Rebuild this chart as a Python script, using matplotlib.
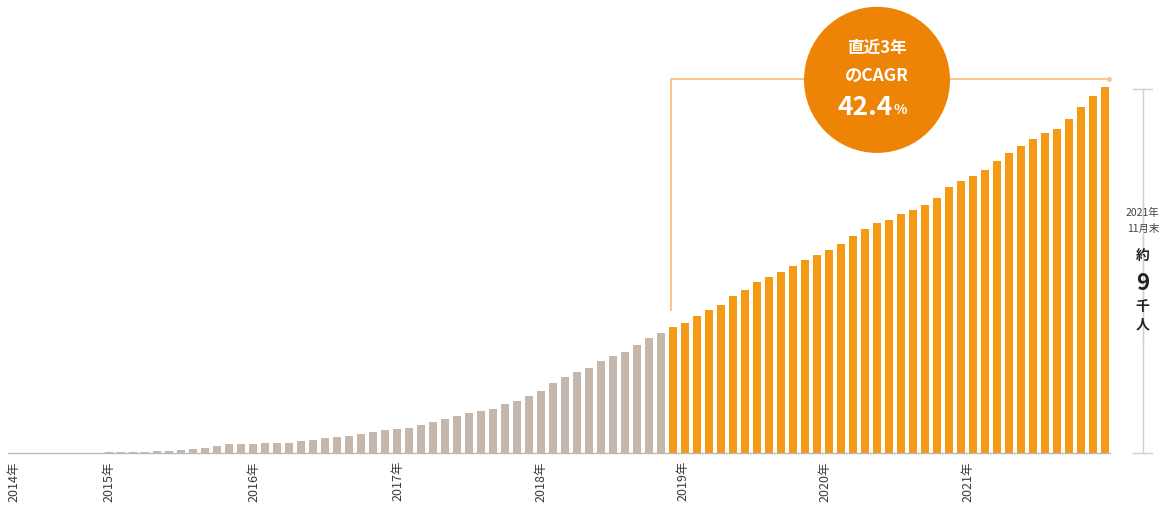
import matplotlib.pyplot as plt
from matplotlib.patches import Ellipse

plt.rcParams['font.family'] = ['Noto Sans CJK JP', 'DejaVu Sans']

# Monthly members (persons)
gray_values = [
    10, 10, 10, 10, 10, 10, 10, 10, 15, 20, 30,
    32, 50, 50, 80, 105, 110, 170, 210, 210, 210, 240, 240, 255,
    300, 330, 370, 395, 410, 470, 525, 565, 590, 610, 680, 755,
    835, 905, 975, 1040, 1090, 1205, 1285, 1395, 1530, 1720, 1880,
    1995, 2100, 2265, 2380, 2490, 2650, 2830, 2960,
]
orange_values = [
    3095, 3200, 3360, 3505, 3645, 3850, 4010, 4205, 4330, 4455, 4600,
    4755, 4865, 5000, 5150, 5340, 5520, 5660, 5740, 5880, 5970, 6110,
    6275, 6535, 6700, 6815, 6960, 7190, 7390, 7550, 7730, 7865, 7980,
    8215, 8520, 8790, 9000,
]
year_labels = ['2014年', '2015年', '2016年', '2017年', '2018年', '2019年', '2020年', '2021年']
year_pos = [0.1, 8.0, 20.1, 32.1, 44.0, 55.8, 67.7, 79.6]

GRAY = '#c5b7ab'
ORANGE = '#f49a14'
CIRCLE = '#ee8405'
LINE = '#f8c48e'

n_gray = len(gray_values)
n_all = n_gray + len(orange_values)
x_gray = list(range(n_gray))
x_orange = list(range(n_gray, n_all))

fig = plt.figure(figsize=(11.71, 5.07), dpi=100)
ax = fig.add_axes([0, 0, 1, 1])
# 12 px per month, 24.6 persons per px
ax.set_xlim(-1.08, 96.5)
ax.set_ylim(-1330, 11145)
ax.axis('off')

ax.bar(x_gray, gray_values, width=0.6, color=GRAY, zorder=2)
ax.bar(x_orange, orange_values, width=0.6, color=ORANGE, zorder=2)
ax.plot([-0.4, n_all - 0.6], [0, 0], color='#b8b8bd', lw=1, zorder=3)

# year labels
for pos, lab in zip(year_pos, year_labels):
    ax.text(pos, -200, lab, rotation=90, ha='center', va='top',
            fontsize=9, color='#3a3a3a')

# bracket for last 3 years
top = 9200
bx0 = n_gray - 0.2
bx1 = n_all - 0.7
ax.plot([bx0, bx0, bx1], [orange_values[0] + 420, top, top], color=LINE, lw=1.4, zorder=1)
ax.plot([bx1], [top], marker='o', ms=2.5, color=LINE, zorder=1)

cx = 72.0
ax.add_patch(Ellipse((cx, top - 20), width=12.05, height=3560, color=CIRCLE, zorder=4))
ax.text(cx, top + 760, '直近3年', ha='center', va='center', color='white',
        fontsize=12, fontweight='bold', zorder=5)
ax.text(cx, top + 80, 'のCAGR', ha='center', va='center', color='white',
        fontsize=12.5, fontweight='bold', zorder=5)
ax.text(cx + 1.3, top - 700, '42.4', ha='right', va='center', color='white',
        fontsize=19, fontweight='bold', zorder=5)
ax.text(cx + 1.35, top - 760, '%', ha='left', va='center', color='white',
        fontsize=10, fontweight='bold', zorder=5)

# right scale
sx = 94.15
smax = orange_values[-1] - 50
ax.plot([sx, sx], [0, 6180], color='#d0d0d0', lw=1)
ax.plot([sx, sx], [2700, smax], color='#d0d0d0', lw=1)
for yy in [0, smax]:
    ax.plot([sx - 0.8, sx + 0.8], [yy, yy], color='#d0d0d0', lw=1)
ax.text(sx, 5900, '2021年', ha='center', va='center', fontsize=7.5, color='#444444')
ax.text(sx, 5500, '11月末', ha='center', va='center', fontsize=7.5, color='#444444')
ax.text(sx, 4840, '約', ha='center', va='center', fontsize=10, fontweight='bold', color='#222222')
ax.text(sx, 4160, '9', ha='center', va='center', fontsize=16, fontweight='bold', color='#222222')
ax.text(sx, 3600, '千', ha='center', va='center', fontsize=10, fontweight='bold', color='#222222')
ax.text(sx, 3170, '人', ha='center', va='center', fontsize=10, fontweight='bold', color='#222222')

fig.savefig('out.png', dpi=100)
